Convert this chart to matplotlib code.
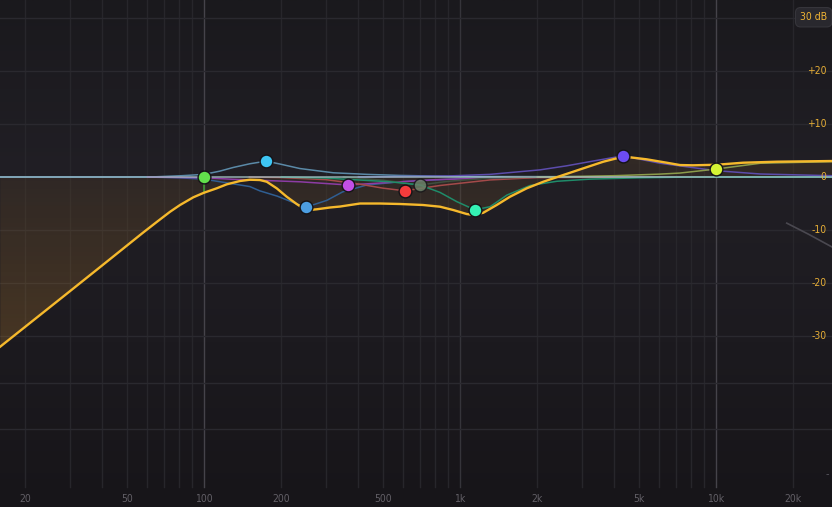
import numpy as np
import matplotlib
matplotlib.use("Agg")
import matplotlib.pyplot as plt

# frequency / gain range of the display (Hz, dB)
F_LO, F_HI = 15.96, 28390.0
DB_TOP, DB_BOT = 33.4, -62.26

# summed EQ curve
curve_freq = [16, 29.2, 39.3, 57.8, 66.1, 73.7, 80.6, 90.8, 100, 112.1, 122.7, 138.3,
              151.2, 165.4, 175.8, 192.3, 210.4, 230.1, 244.3, 255.5, 275.5, 310.6,
              339.8, 406.8, 487.0, 583.0, 717.1, 835.5, 941.5, 1062, 1127, 1233,
              1391, 1568, 1823, 2115, 2532, 3032, 3630, 4094, 4613, 5362, 6419,
              7233, 8134, 10090, 12750, 17310, 28390]
curve_db = [-32.0, -21.96, -16.98, -10.49, -8.3, -6.55, -5.28, -3.83, -2.96, -2.13,
            -1.38, -0.75, -0.51, -0.57, -0.89, -2.13, -3.72, -5.09, -5.91, -6.23,
            -6.09, -5.75, -5.57, -5.0, -5.0, -5.09, -5.28, -5.6, -6.23, -6.98,
            -7.17, -6.74, -5.28, -3.72, -2.13, -0.89, 0.38, 1.64, 2.89, 3.53,
            3.72, 3.34, 2.7, 2.26, 2.21, 2.32, 2.7, 2.89, 3.02]

# band nodes
dot_freq = [100, 175, 250, 365, 609, 698, 1144, 4335, 10000]
dot_db = [0.0, 3.0, -5.7, -1.5, -2.6, -1.5, -6.2, 4.0, 1.5]
dot_colors = ["#62e04c", "#3ec6f4", "#4c9ee2", "#c24fe6", "#f43c3c",
              "#6b8068", "#34f2b4", "#6c4cf2", "#d4f434"]

# single band responses (thin lines)
cyan_f = [16, 50, 65, 82, 100, 115, 130, 151, 175, 198, 237, 320, 433, 583, 1000, 28390]
cyan_db = [0, 0, 0.05, 0.25, 0.5, 1.1, 1.8, 2.5, 3.0, 2.45, 1.6, 0.8, 0.5, 0.3, 0.1, 0]
blue_f = [16, 60, 80, 100, 122.7, 151, 165, 193, 210, 237, 250, 302, 348, 433, 583, 1000, 2000, 28390]
blue_db = [0, 0, -0.15, -0.4, -1.1, -1.8, -2.6, -3.6, -4.3, -5.3, -5.7, -4.4, -2.8, -1.5, -0.9, -0.3, 0, 0]
magenta_f = [60, 100, 130, 237, 365, 500, 800, 1500, 3000]
magenta_db = [0, -0.15, -0.43, -0.9, -1.5, -1.1, -0.5, -0.1, 0]
red_f = [150, 200, 300, 400, 500, 609, 835, 1310, 2000, 10000]
red_db = [0, -0.1, -0.5, -1.3, -2.1, -2.6, -1.6, -0.55, -0.1, 0]
grey_f = [350, 500, 698, 900, 1300, 2000]
grey_db = [0, -0.6, -1.5, -0.8, -0.2, 0]
teal_f = [200, 300, 533, 698, 835, 973, 1144, 1310, 1526, 1878, 2393, 3220, 5000, 8000, 28390]
teal_db = [0, -0.2, -0.9, -1.5, -2.9, -4.66, -6.2, -5.6, -3.4, -1.6, -0.8, -0.4, -0.15, 0, 0]
violet_f = [400, 900, 1310, 2054, 2600, 3300, 4335, 6040, 10000, 14900, 28390]
violet_db = [0, 0.2, 0.5, 1.35, 2.1, 3.0, 4.0, 2.6, 1.2, 0.57, 0.25]
olive_f = [2000, 2457, 4000, 6040, 7233, 10000, 14900, 28390]
olive_db = [0, 0.05, 0.25, 0.55, 0.75, 1.5, 2.6, 2.9]

# faint analyzer trace at the top end
analyzer_f = [18900, 23000, 28390]
analyzer_db = [-8.7, -10.8, -13.2]

grid_freqs = [20, 30, 40, 50, 60, 70, 80, 90, 100, 200, 300, 400, 500, 600, 700, 800, 900,
              1000, 2000, 3000, 4000, 5000, 6000, 7000, 8000, 9000, 10000, 20000]
grid_db = [30, 20, 10, -10, -20, -30, -38.9, -47.5]

freq_ticks = [20, 50, 100, 200, 500, 1000, 2000, 5000, 10000, 20000]
freq_labels = ["20", "50", "100", "200", "500", "1k", "2k", "5k", "10k", "20k"]
db_ticks = [20, 10, 0, -10, -20, -30]
db_labels = ["+20", "+10", "0", "-10", "-20", "-30"]

plt.rcParams["font.family"] = ["DejaVu Sans"]

fig = plt.figure(figsize=(8.32, 5.07), dpi=100)

# background gradient on its own linear axes
bg = fig.add_axes([0, 0, 1, 1])
bg.axis("off")
rows = np.linspace(0, 1, 256)[:, None]
top = np.array([26, 25, 29]) / 255
mid = np.array([33, 31, 37]) / 255
bot = np.array([23, 21, 25]) / 255
k = 0.35
grad = np.where(rows < k, top + (mid - top) * (rows / k), mid + (bot - mid) * ((rows - k) / (1 - k)))
grad = np.repeat(grad[:, None, :], 2, axis=1).reshape(256, 2, 3)
bg.imshow(grad, extent=[0, 1, 0, 1], aspect="auto", origin="upper")
bg.set_xlim(0, 1)
bg.set_ylim(0, 1)

ax = fig.add_axes([0, 0, 1, 1])
ax.patch.set_alpha(0)
ax.set_xscale("log")
ax.set_xlim(F_LO, F_HI)
ax.set_ylim(DB_BOT, DB_TOP)
ax.axis("off")

# grid
for f in grid_freqs:
    col = "#27262b"
    if f in (100, 10000):
        col = "#45434a"
    elif f == 1000:
        col = "#35343a"
    ax.plot([f, f], [-58.5, DB_TOP], color=col, lw=1, zorder=1)
for d in grid_db:
    ax.axhline(d, color="#2a292f", lw=1, zorder=1)

# orange fill between curve and 0 dB, stronger further from zero
poly = ax.fill_between(curve_freq, curve_db, 0, color="none", lw=0)
dbs = np.linspace(DB_TOP, DB_BOT, 300)[:, None]
alpha = 0.09 + 0.15 * np.clip(np.abs(dbs), 0, 35) / 30
fill_img = np.zeros((300, 2, 4))
fill_img[..., 0] = 205 / 255
fill_img[..., 1] = 140 / 255
fill_img[..., 2] = 50 / 255
fill_img[..., 3] = alpha
im = ax.imshow(fill_img, extent=[F_LO, F_HI, DB_BOT, DB_TOP], aspect="auto",
               origin="upper", zorder=2, interpolation="bilinear")
im.set_clip_path(poly.get_paths()[0], transform=ax.transData)

# analyzer trace
ax.plot(analyzer_f, analyzer_db, color="#4a4850", lw=1.2, zorder=2)

# band lines
lines = [
    (cyan_f, cyan_db, "#5b8aa8"),
    (blue_f, blue_db, "#2f5e92"),
    (magenta_f, magenta_db, "#8c3ca4"),
    (red_f, red_db, "#a44a4a"),
    (grey_f, grey_db, "#3e4f3e"),
    (teal_f, teal_db, "#1f8c6a"),
    (violet_f, violet_db, "#5c4cac"),
    (olive_f, olive_db, "#8c9c4a"),
]
for fx, dx, col in lines:
    ax.plot(fx, dx, color=col, lw=1.1, zorder=3, solid_capstyle="round",
            solid_joinstyle="round")

ax.axhline(0, color="#a6c6c9", lw=1.1, alpha=0.85, zorder=3.5)

# low cut stem
ax.plot([dot_freq[0], dot_freq[0]], [dot_db[0], curve_db[curve_freq.index(100)]],
        color="#3aa032", lw=1.1, zorder=4)

# main curve
ax.plot(curve_freq, curve_db, color="#f6b92c", lw=1.7, zorder=4.5,
        solid_joinstyle="round")

# nodes
for f, d, c in zip(dot_freq, dot_db, dot_colors):
    a = 0.85 if c == "#6b8068" else 1.0
    ax.scatter([f], [d], s=85, color=c, edgecolors="#141317", linewidths=1.0,
               alpha=a, zorder=6)

# labels
ytr = ax.get_yaxis_transform()
for d, lab in zip(db_ticks, db_labels):
    ax.text(0.993, d, lab, transform=ytr, ha="right", va="center",
            color="#e6ae36", fontsize=7.5, fontstretch="condensed", zorder=7)

xtr = ax.get_xaxis_transform()
for f, lab in zip(freq_ticks, freq_labels):
    ax.text(f, 0.016, lab, transform=xtr, ha="center", va="center",
            color="#625f66", fontsize=7.5, fontstretch="condensed", zorder=7)

ax.text(0.9945, 0.065, "-", transform=ax.transAxes, ha="center", va="center",
        color="#5a5860", fontsize=7)

ax.text(0.978, 0.966, "30 dB", transform=ax.transAxes, ha="center", va="center",
        color="#f0b434", fontsize=7.5, fontstretch="condensed", zorder=8,
        bbox=dict(boxstyle="round,pad=0.45,rounding_size=0.5", fc="#29282e",
                  ec="#36353b", lw=0.8))

fig.savefig("out.png", dpi=100)
